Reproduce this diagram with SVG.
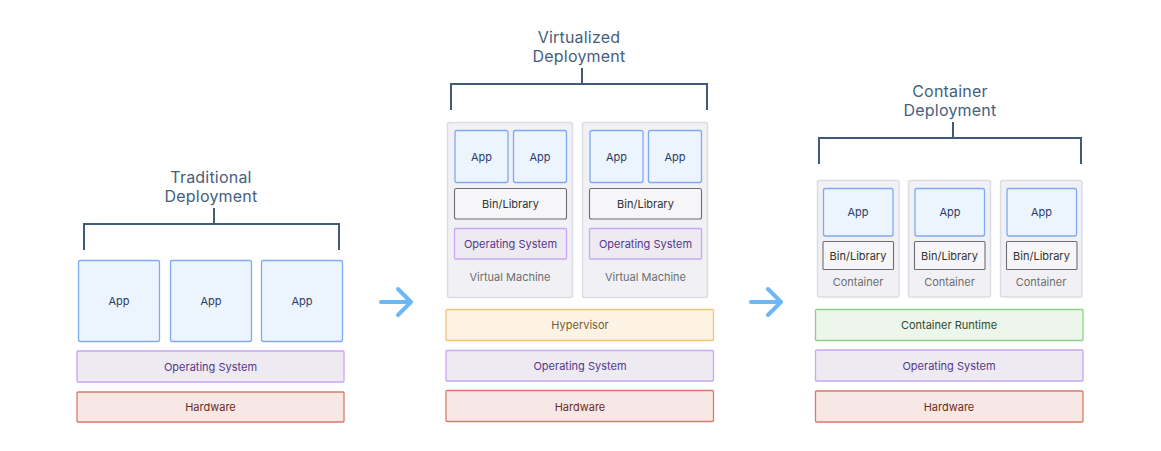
<svg xmlns="http://www.w3.org/2000/svg" width="1161" height="451" viewBox="0 0 1161 451">
<defs>
<style>
text{font-family:Inter,"Liberation Sans",sans-serif;text-anchor:middle;dominant-baseline:central}
.title{font-size:16px;fill:#45607d;letter-spacing:0.2px}
.lbl{font-size:11px}
.app rect{fill:#ecf4fd;stroke:#80a9f4;stroke-width:1.3}
.app text{fill:#2d3b6e}
.os rect{fill:#edeaf2;stroke:#c8a7f4;stroke-width:1.3}
.os text{fill:#55388a}
.hw rect{fill:#f7e8e5;stroke:#d97a6c;stroke-width:1.3}
.hw text{fill:#6e2b22}
.hv rect{fill:#fcf3e5;stroke:#efc673;stroke-width:1.3}
.hv text{fill:#7a5a2c}
.cr rect{fill:#edf6eb;stroke:#8ed088;stroke-width:1.3}
.cr text{fill:#2f4a30}
.bin rect{fill:#f6f6f8;stroke:#6b6e73;stroke-width:1.1}
.bin text{fill:#333}
.vm rect{fill:#f1f1f5;stroke:#dcdde2;stroke-width:1.5}
.vm text{fill:#6d6d70}
.br{fill:none;stroke:#3f5b79;stroke-width:2}
.arr{fill:none;stroke:#6cb7f6;stroke-width:4;stroke-linecap:round;stroke-linejoin:round}
</style>
</defs>

<!-- Traditional -->
<g id="traditional-title"><text class="title" x="211" y="177">Traditional</text><text class="title" x="211" y="196">Deployment</text></g>
<g id="trad-app1" class="app"><rect x="78.5" y="260.5" width="81" height="81" rx="2"/><text class="lbl" x="119" y="301">App</text></g>
<g id="trad-app2" class="app"><rect x="170.5" y="260.5" width="81" height="81" rx="2"/><text class="lbl" x="211" y="301">App</text></g>
<g id="trad-app3" class="app"><rect x="261.5" y="260.5" width="81" height="81" rx="2"/><text class="lbl" x="302" y="301">App</text></g>
<g id="trad-os" class="os"><rect x="77" y="351" width="267" height="31" rx="1"/><text class="lbl" x="210.5" y="366.5">Operating System</text></g>
<g id="trad-hw" class="hw"><rect x="77" y="392" width="267" height="30" rx="1"/><text class="lbl" x="210.5" y="407">Hardware</text></g>

<!-- Virtualized -->
<g id="virt-title"><text class="title" x="579" y="37">Virtualized</text><text class="title" x="579" y="56">Deployment</text></g>
<g id="vm1" class="vm"><rect x="447.5" y="122.5" width="125" height="175" rx="2"/><text class="lbl" x="510" y="277">Virtual Machine</text></g>
<g id="vm1-app1" class="app"><rect x="455" y="130.5" width="53" height="52" rx="2"/><text class="lbl" x="481.5" y="157">App</text></g>
<g id="vm1-app2" class="app"><rect x="513.5" y="130.5" width="53" height="52" rx="2"/><text class="lbl" x="540" y="157">App</text></g>
<g id="vm1-bin" class="bin"><rect x="454.5" y="188.5" width="112" height="30.5" rx="2"/><text class="lbl" x="510.5" y="204">Bin/Library</text></g>
<g id="vm1-os" class="os"><rect x="454.5" y="228.5" width="112" height="30.5" rx="1"/><text class="lbl" x="510.5" y="244">Operating System</text></g>
<g id="vm2" class="vm"><rect x="582.5" y="122.5" width="125" height="175" rx="2"/><text class="lbl" x="645.5" y="277">Virtual Machine</text></g>
<g id="vm2-app1" class="app"><rect x="590" y="130.5" width="53" height="52" rx="2"/><text class="lbl" x="616.5" y="157">App</text></g>
<g id="vm2-app2" class="app"><rect x="648.5" y="130.5" width="53" height="52" rx="2"/><text class="lbl" x="675" y="157">App</text></g>
<g id="vm2-bin" class="bin"><rect x="589.5" y="188.5" width="112" height="30.5" rx="2"/><text class="lbl" x="645.5" y="204">Bin/Library</text></g>
<g id="vm2-os" class="os"><rect x="589.5" y="228.5" width="112" height="30.5" rx="1"/><text class="lbl" x="645.5" y="244">Operating System</text></g>
<g id="virt-hv" class="hv"><rect x="446" y="309.5" width="267.5" height="31" rx="1"/><text class="lbl" x="580" y="325">Hypervisor</text></g>
<g id="virt-os" class="os"><rect x="446" y="350.5" width="267.5" height="30.5" rx="1"/><text class="lbl" x="580" y="366">Operating System</text></g>
<g id="virt-hw" class="hw"><rect x="446" y="390.5" width="267.5" height="31" rx="1"/><text class="lbl" x="580" y="406.5">Hardware</text></g>

<!-- Container -->
<g id="cont-title"><text class="title" x="950" y="91">Container</text><text class="title" x="950" y="110">Deployment</text></g>
<g id="c1" class="vm"><rect x="817.5" y="180.5" width="81.5" height="116.5" rx="2"/><text class="lbl" x="858" y="282">Container</text></g>
<g id="c1-app" class="app"><rect x="823.5" y="188.5" width="69.5" height="47.5" rx="2"/><text class="lbl" x="858" y="212">App</text></g>
<g id="c1-bin" class="bin"><rect x="823" y="241.5" width="70.5" height="28" rx="1"/><text class="lbl" x="858" y="255.5">Bin/Library</text></g>
<g id="c2" class="vm"><rect x="908.5" y="180.5" width="82" height="116.5" rx="2"/><text class="lbl" x="949.5" y="282">Container</text></g>
<g id="c2-app" class="app"><rect x="915" y="188.5" width="69.5" height="47.5" rx="2"/><text class="lbl" x="950" y="212">App</text></g>
<g id="c2-bin" class="bin"><rect x="914.5" y="241.5" width="70.5" height="28" rx="1"/><text class="lbl" x="949.5" y="255.5">Bin/Library</text></g>
<g id="c3" class="vm"><rect x="1000.5" y="180.5" width="81.5" height="116.5" rx="2"/><text class="lbl" x="1041" y="282">Container</text></g>
<g id="c3-app" class="app"><rect x="1007" y="188.5" width="69.5" height="47.5" rx="2"/><text class="lbl" x="1041.5" y="212">App</text></g>
<g id="c3-bin" class="bin"><rect x="1006.5" y="241.5" width="70.5" height="28" rx="1"/><text class="lbl" x="1041.5" y="255.5">Bin/Library</text></g>
<g id="cont-cr" class="cr"><rect x="815.5" y="309.5" width="267.5" height="31" rx="1"/><text class="lbl" x="949" y="325">Container Runtime</text></g>
<g id="cont-os" class="os"><rect x="815.5" y="350" width="267.5" height="31" rx="1"/><text class="lbl" x="949" y="366">Operating System</text></g>
<g id="cont-hw" class="hw"><rect x="815.5" y="391" width="267.5" height="31" rx="1"/><text class="lbl" x="949" y="406.5">Hardware</text></g>

<!-- connectors -->
<g id="connectors">
<path class="br" d="M214 208V224M84 250V224H339V250"/>
<path class="br" d="M582 68V84M451 110V84H707V110"/>
<path class="br" d="M953 122V138M819 164V138H1081V164"/>
<path class="arr" d="M381 302H411M398 289L411 302L398 315"/>
<path class="arr" d="M751 302H781M768 289L781 302L768 315"/>
</g>
</svg>
